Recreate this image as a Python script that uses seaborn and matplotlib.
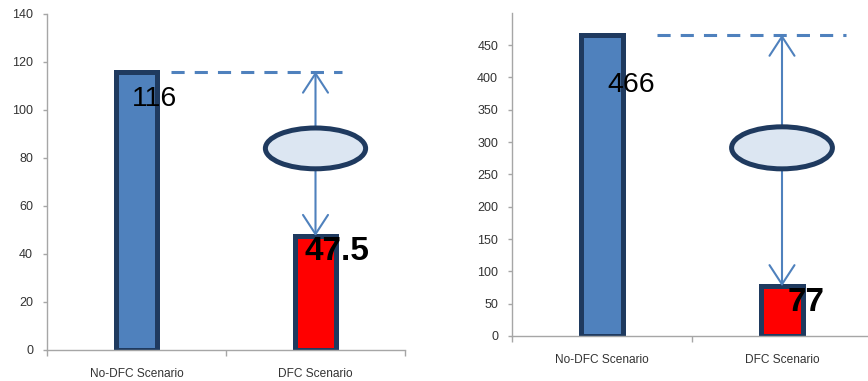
import matplotlib
matplotlib.use("Agg")
import matplotlib.pyplot as plt
from matplotlib.patches import Ellipse
import seaborn as sns
import pandas as pd

# Scenario data for the two panels
categories = ["No-DFC Scenario", "DFC Scenario"]
left_values = [116, 47.5]
right_values = [466, 77]
bar_colors = ["#4F81BD", "#FF0000"]
left_ticks = [0, 20, 40, 60, 80, 100, 120, 140]
right_ticks = [0, 50, 100, 150, 200, 250, 300, 350, 400, 450]

sns.set_theme(style="white")
plt.rcParams["font.family"] = ["Liberation Sans", "DejaVu Sans"]

EDGE = "#1F3A5F"
LINE = "#4F81BD"
AXIS_GRAY = "#A6A6A6"
TEXT_GRAY = "#333333"

fig = plt.figure(figsize=(8.68, 3.81), dpi=100)
ax_l = fig.add_axes([47 / 868, 31 / 381, 358 / 868, 336 / 381])
ax_r = fig.add_axes([512 / 868, 45 / 381, 360 / 868, 323.3 / 381])


def draw_panel(ax, values, ylim, yticks, dash_span, ell_cy, ell_w, ell_h,
               label_specs):
    df = pd.DataFrame({"scenario": categories, "value": values})
    sns.barplot(data=df, x="scenario", y="value", hue="scenario",
                palette=bar_colors, legend=False, width=0.23,
                saturation=1, edgecolor=EDGE, linewidth=3.6, ax=ax,
                zorder=2)
    ax.set_xlim(-0.5, 1.5)
    ax.set_ylim(*ylim)
    ax.set_yticks(yticks)
    ax.set_xticks([0, 1])
    ax.set_xticks([-0.5, 0.5, 1.5], minor=True)
    ax.set_xticklabels(categories)
    ax.set_xlabel("")
    ax.set_ylabel("")
    for s in ("top", "right"):
        ax.spines[s].set_visible(False)
    for s in ("left", "bottom"):
        ax.spines[s].set_color(AXIS_GRAY)
        ax.spines[s].set_linewidth(1.0)
    ax.tick_params(axis="y", which="major", direction="out", length=3,
                   width=1, color=AXIS_GRAY, labelsize=9,
                   labelcolor=TEXT_GRAY, pad=7, left=True)
    ax.tick_params(axis="x", which="major", length=0, labelsize=8.6,
                   labelcolor=TEXT_GRAY, pad=13)
    ax.tick_params(axis="x", which="minor", direction="out", length=4,
                   width=1, color=AXIS_GRAY, bottom=True)
    ax.set_facecolor("white")

    top = values[0]
    low = values[1]
    # dashed reference line at the No-DFC level
    ax.plot(dash_span, [top, top], color=LINE, lw=2.2,
            linestyle=(0, (4.3, 3.3)), zorder=3, solid_capstyle="butt")

    # connector ellipse and the two arrows
    ell = Ellipse((1, ell_cy), ell_w, ell_h, facecolor="#DCE6F2",
                  edgecolor=EDGE, lw=3.6, zorder=4)
    ax.add_patch(ell)
    arrow = dict(arrowstyle="->,head_length=1.15,head_width=0.75",
                 color=LINE, lw=1.5, shrinkA=0, shrinkB=0)
    ax.annotate("", xy=(1, top), xytext=(1, ell_cy + ell_h / 2),
                arrowprops=arrow, zorder=3)
    ax.annotate("", xy=(1, low), xytext=(1, ell_cy - ell_h / 2),
                arrowprops=arrow, zorder=3)

    # value labels
    for i, (v, dx, dy, bold) in enumerate(label_specs):
        txt = f"{v:g}"
        ax.annotate(txt, xy=(i, v), xytext=(dx, dy),
                    textcoords="offset points", ha="left", va="center",
                    fontsize=24 if bold else 20.5,
                    fontweight="bold" if bold else "normal",
                    color="black", zorder=5)


draw_panel(ax_l, left_values, (0, 140), left_ticks,
           dash_span=[0.193, 1.148], ell_cy=84, ell_w=0.56, ell_h=17,
           label_specs=[(left_values[0], -3, -20, False),
                        (left_values[1], -8, -11, True)])

draw_panel(ax_r, right_values, (0, 500), right_ticks,
           dash_span=[0.306, 1.356], ell_cy=291, ell_w=0.56, ell_h=65,
           label_specs=[(right_values[0], 4, -36, False),
                        (right_values[1], 4, -12, True)])

fig.savefig("out.png", dpi=100, facecolor="white")
